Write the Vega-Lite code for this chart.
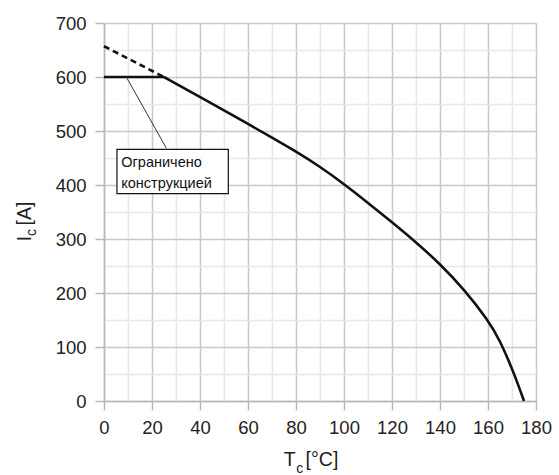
{
  "$schema": "https://vega.github.io/schema/vega-lite/v6.json",
  "width": 432,
  "height": 378,
  "autosize": "none",
  "padding": {"left": 104, "top": 23, "right": 23, "bottom": 74},
  "background": "white",
  "config": {
    "view": {"stroke": null},
    "font": "Liberation Sans",
    "axis": {
      "labelFont": "Liberation Sans",
      "labelFontSize": 18.5,
      "labelColor": "#222",
      "domainColor": "#b8b8b8",
      "domainWidth": 1.5,
      "tickColor": "#b8b8b8",
      "tickSize": 9,
      "tickWidth": 1.5,
      "labelPadding": 9,
      "gridWidth": 1.5,
      "gridColor": "#c8c8c8"
    }
  },
  "resolve": {"axis": {"x": "independent", "y": "independent"}},
  "layer": [
    {
      "data": {"values": [{"t": 0, "i": 657}, {"t": 25, "i": 600}]},
      "mark": {"type": "line", "color": "#111", "strokeWidth": 2.6, "strokeDash": [6, 4]},
      "encoding": {
        "x": {
          "field": "t", "type": "quantitative",
          "scale": {"domain": [0, 180], "nice": false, "zero": false},
          "axis": {
            "orient": "top",
            "values": [10, 30, 50, 70, 90, 110, 130, 150, 170],
            "grid": true, "gridColor": "#e8e8e8",
            "labels": false, "ticks": false, "domain": false, "title": null
          }
        },
        "y": {
          "field": "i", "type": "quantitative",
          "scale": {"domain": [0, 700], "nice": false},
          "axis": {
            "orient": "right",
            "values": [50, 150, 250, 350, 450, 550, 650],
            "grid": true, "gridColor": "#e8e8e8",
            "labels": false, "ticks": false, "domain": false, "title": null
          }
        }
      }
    },
    {
      "data": {"values": [
        {"seg": "flat", "t": 0, "i": 600}, {"seg": "flat", "t": 25, "i": 600},
        {"seg": "curve", "t": 25, "i": 600}, {"seg": "curve", "t": 40, "i": 563}, {"seg": "curve", "t": 50, "i": 538},
        {"seg": "curve", "t": 60, "i": 513}, {"seg": "curve", "t": 70, "i": 488}, {"seg": "curve", "t": 80, "i": 462},
        {"seg": "curve", "t": 90, "i": 434}, {"seg": "curve", "t": 100, "i": 402}, {"seg": "curve", "t": 110, "i": 367},
        {"seg": "curve", "t": 120, "i": 331}, {"seg": "curve", "t": 130, "i": 294}, {"seg": "curve", "t": 140, "i": 254},
        {"seg": "curve", "t": 150, "i": 207}, {"seg": "curve", "t": 160, "i": 150}, {"seg": "curve", "t": 165, "i": 112},
        {"seg": "curve", "t": 170, "i": 60}, {"seg": "curve", "t": 173, "i": 25}, {"seg": "curve", "t": 175, "i": 0}
      ]},
      "mark": {"type": "line", "color": "#111", "strokeWidth": 2.6, "interpolate": "basis"},
      "encoding": {
        "detail": {"field": "seg"},
        "x": {
          "field": "t", "type": "quantitative",
          "axis": {
            "orient": "bottom",
            "values": [0, 20, 40, 60, 80, 100, 120, 140, 160, 180],
            "grid": true, "title": null, "labelPadding": 8, "labelFlush": false
          }
        },
        "y": {
          "field": "i", "type": "quantitative",
          "axis": {
            "orient": "left",
            "values": [0, 100, 200, 300, 400, 500, 600, 700],
            "grid": true, "title": null, "labelFlush": false
          }
        }
      }
    },
    {
      "data": {"values": [{"t": 9.3, "i": 600, "t2": 26, "i2": 468}]},
      "mark": {"type": "rule", "color": "#333", "strokeWidth": 1},
      "encoding": {
        "x": {"field": "t", "type": "quantitative", "axis": null},
        "y": {"field": "i", "type": "quantitative", "axis": null},
        "x2": {"field": "t2"},
        "y2": {"field": "i2"}
      }
    },
    {
      "data": {"values": [{"t": 5.4, "i": 466, "t2": 51.8, "i2": 384}]},
      "mark": {"type": "rect", "fill": "white", "stroke": "#111", "strokeWidth": 1.2},
      "encoding": {
        "x": {"field": "t", "type": "quantitative", "axis": null},
        "y": {"field": "i", "type": "quantitative", "axis": null},
        "x2": {"field": "t2"},
        "y2": {"field": "i2"}
      }
    },
    {
      "data": {"values": [{"t": 7.2, "i": 440, "label": "Ограничено"}, {"t": 7.2, "i": 402, "label": "конструкцией"}]},
      "mark": {"type": "text", "align": "left", "baseline": "middle", "fontSize": 14.5, "color": "#111"},
      "encoding": {
        "x": {"field": "t", "type": "quantitative", "axis": null},
        "y": {"field": "i", "type": "quantitative", "axis": null},
        "text": {"field": "label"}
      }
    },
    {
      "data": {"values": [
        {"t": 74.9, "i": -121, "label": "T", "size": 19.5},
        {"t": 80.1, "i": -132.5, "label": "c", "size": 14},
        {"t": 84.0, "i": -121, "label": "[°C]", "size": 19.5}
      ]},
      "mark": {"type": "text", "align": "left", "baseline": "alphabetic", "color": "#222"},
      "encoding": {
        "x": {"field": "t", "type": "quantitative", "axis": null},
        "y": {"field": "i", "type": "quantitative", "axis": null},
        "text": {"field": "label"},
        "size": {"field": "size", "type": "quantitative", "scale": null}
      }
    },
    {
      "data": {"values": [
        {"t": -30.5, "i": 295.7, "label": "I", "size": 19.5},
        {"t": -28.2, "i": 305.5, "label": "c", "size": 14},
        {"t": -30.5, "i": 325, "label": "[A]", "size": 19.5}
      ]},
      "mark": {"type": "text", "align": "left", "baseline": "alphabetic", "angle": 270, "color": "#222"},
      "encoding": {
        "x": {"field": "t", "type": "quantitative", "axis": null},
        "y": {"field": "i", "type": "quantitative", "axis": null},
        "text": {"field": "label"},
        "size": {"field": "size", "type": "quantitative", "scale": null}
      }
    }
  ]
}
